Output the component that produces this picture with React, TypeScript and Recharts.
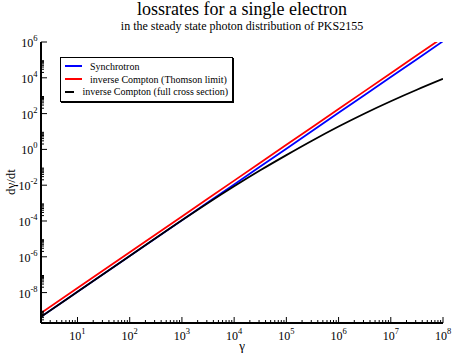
import { LineChart, Line, XAxis, YAxis, Legend } from 'recharts'

const serif = "'Liberation Serif', 'DejaVu Serif', 'Times New Roman', Times, serif"

// Lorentz factor samples and loss rates
const gamma = [2, 10, 1e2, 1e3, 3.16e3, 1e4, 3.16e4, 1e5, 3.16e5, 1e6, 3.16e6, 1e7, 3.16e7, 1e8]
const synchrotron = [4.4e-10, 1.1e-8, 1.1e-6, 1.1e-4, 1.1e-3, 1.1e-2, 0.11, 1.1, 11, 110, 1.1e3, 1.1e4, 1.1e5, 1.1e6]
const thomson = [7.2e-10, 1.8e-8, 1.8e-6, 1.8e-4, 1.8e-3, 1.8e-2, 0.18, 1.8, 18, 180, 1.8e3, 1.8e4, 1.8e5, 1.8e6]
const fullCross = [4.4e-10, 1.1e-8, 1.1e-6, 1.1e-4, 1.02e-3, 8.7e-3, 6.8e-2, 0.48, 3.16, 19, 102, 490, 2.14e3, 8.7e3]

const xDomain = [2, 1e8]
const yDomain = [2e-10, 1e6]
const xMajorTicks = [1e1, 1e2, 1e3, 1e4, 1e5, 1e6, 1e7, 1e8]
const xMinorDecades = [1, 1e1, 1e2, 1e3, 1e4, 1e5, 1e6, 1e7]
const yMajorTicks = [1e-8, 1e-6, 1e-4, 1e-2, 1, 1e2, 1e4, 1e6]
const yMinorDecades = [1e-10, 1e-8, 1e-6, 1e-4, 1e-2, 1, 1e2, 1e4]
const minorSteps = [2, 3, 4, 5, 6, 7, 8, 9]

const xTicks = [
  ...xMajorTicks,
  ...xMinorDecades.flatMap(d => minorSteps.map(m => m * d))
].filter(v => v > xDomain[0] && v <= xDomain[1])

const yTicks = [
  ...yMajorTicks,
  ...yMinorDecades.flatMap(d => minorSteps.map(m => m * d))
].filter(v => v > yDomain[0] && v <= yDomain[1])

const data = gamma.map((g, i) => ({
  g,
  sync: synchrotron[i],
  thomson: thomson[i],
  full: fullCross[i]
}))

const isMajor = (v: number) => {
  const l = Math.log10(v)
  return Math.abs(l - Math.round(l)) < 1e-6
}
const exponent = (v: number) => String(Math.round(Math.log10(v)))

const BottomTick = ({ x, y, payload }: any) => {
  const major = isMajor(payload.value)
  return (
    <g>
      <line x1={x} x2={x} y1={y} y2={y - (major ? 6 : 3)} stroke="#000" />
      {major && (
        <text x={x} y={y + 17} textAnchor="middle" fontFamily={serif} fontSize={12} fill="#000">
          10<tspan dy={-6} fontSize={8.5}>{exponent(payload.value)}</tspan>
        </text>
      )}
    </g>
  )
}

const TopTick = ({ x, y, payload }: any) => (
  <line x1={x} x2={x} y1={y} y2={y + (isMajor(payload.value) ? 6 : 3)} stroke="#000" />
)

const LeftTick = ({ x, y, payload }: any) => {
  const major = isMajor(payload.value)
  return (
    <g>
      <line x1={x} x2={x + (major ? 6 : 3)} y1={y} y2={y} stroke="#000" />
      {major && (
        <text x={x - 3.5} y={y + 5} textAnchor="end" fontFamily={serif} fontSize={12} fill="#000">
          10<tspan dy={-6} fontSize={8.5}>{exponent(payload.value)}</tspan>
        </text>
      )}
    </g>
  )
}

const RightTick = ({ x, y, payload }: any) => (
  <line x1={x} x2={x - (isMajor(payload.value) ? 6 : 3)} y1={y} y2={y} stroke="#000" />
)

const renderLegend = ({ payload }: any) => (
  <div
    style={{
      width: 173,
      boxSizing: 'border-box',
      border: '1px solid #000',
      boxShadow: '1px 1px 0 #000',
      background: '#fff',
      padding: '2px 4px 3px 4px',
      fontFamily: serif,
      fontSize: 10,
      color: '#000'
    }}
  >
    {(payload || []).map((p: any) => (
      <div key={p.value} style={{ display: 'flex', alignItems: 'center', height: 12.7 }}>
        <span style={{ display: 'inline-block', width: 17, height: 2, background: p.color, marginRight: 8 }} />
        <span style={{ whiteSpace: 'nowrap' }}>{p.value}</span>
      </div>
    ))}
  </div>
)

const axisLine = { stroke: '#000', strokeWidth: 2 }

export default function App() {
  return (
    <div style={{ position: 'absolute', left: 0, top: 0, width: 452, height: 355, background: '#fff' }}>
      <LineChart width={452} height={355} data={data} margin={{ top: 42, right: 9, bottom: 0, left: 0 }}>
        <XAxis
          dataKey="g"
          type="number"
          scale="log"
          domain={xDomain}
          allowDataOverflow
          ticks={xTicks}
          interval={0}
          tick={BottomTick}
          tickLine={false}
          tickSize={0}
          tickMargin={0}
          axisLine={axisLine}
          height={32}
        />
        <XAxis
          xAxisId="top"
          orientation="top"
          dataKey="g"
          type="number"
          scale="log"
          domain={xDomain}
          allowDataOverflow
          ticks={xTicks}
          interval={0}
          tick={TopTick}
          tickLine={false}
          tickSize={0}
          tickMargin={0}
          axisLine={axisLine}
          height={0}
        />
        <YAxis
          type="number"
          scale="log"
          domain={yDomain}
          allowDataOverflow
          ticks={yTicks}
          interval={0}
          tick={LeftTick}
          tickLine={false}
          tickSize={0}
          tickMargin={0}
          axisLine={axisLine}
          width={41}
        />
        <YAxis
          yAxisId="right"
          orientation="right"
          type="number"
          scale="log"
          domain={yDomain}
          allowDataOverflow
          ticks={yTicks}
          interval={0}
          tick={RightTick}
          tickLine={false}
          tickSize={0}
          tickMargin={0}
          axisLine={axisLine}
          width={0}
        />
        <Legend
          layout="horizontal"
          verticalAlign="middle"
          align="center"
          content={renderLegend}
          wrapperStyle={{ left: 60, top: 57, width: 173, height: 'auto' }}
        />
        <Line type="linear" dataKey="sync" name="Synchrotron" stroke="#0000ff" strokeWidth={1.8} dot={false} isAnimationActive={false} />
        <Line type="linear" dataKey="thomson" name="inverse Compton (Thomson limit)" stroke="#ff0000" strokeWidth={1.8} dot={false} isAnimationActive={false} />
        <Line type="monotone" dataKey="full" name="inverse Compton (full cross section)" stroke="#000000" strokeWidth={1.8} dot={false} isAnimationActive={false} />
      </LineChart>
      <svg width={452} height={355} style={{ position: 'absolute', left: 0, top: 0, pointerEvents: 'none' }}>
        <text x={242} y={15} textAnchor="middle" fontFamily={serif} fontSize={18} fill="#000">
          lossrates for a single electron
        </text>
        <text x={242} y={29.5} textAnchor="middle" fontFamily={serif} fontSize={12} fill="#000">
          in the steady state photon distribution of PKS2155
        </text>
        <text x={242} y={350} textAnchor="middle" fontFamily={serif} fontSize={13} fill="#000">
          γ
        </text>
        <text x={15} y={182} textAnchor="middle" fontFamily={serif} fontSize={13} fill="#000" transform="rotate(-90 15 182)">
          dγ/dt
        </text>
      </svg>
    </div>
  )
}
